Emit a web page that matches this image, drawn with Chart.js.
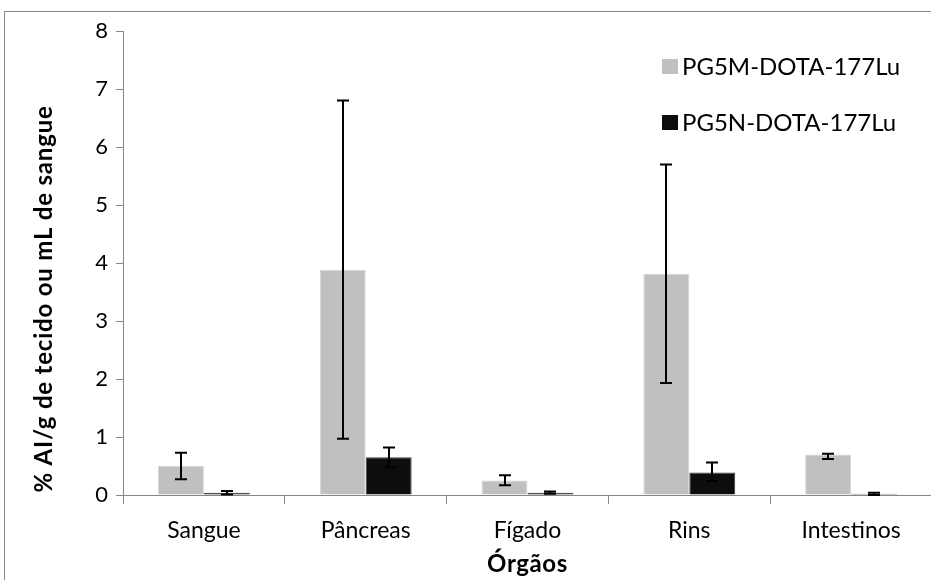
<!DOCTYPE html>
<html>
<head>
<meta charset="utf-8">
<script src="https://cdn.jsdelivr.net/npm/chart.js@4/dist/chart.umd.min.js"></script>
<style>
  html, body { margin: 0; padding: 0; background: #fff; overflow: hidden; }
  canvas { display: block; }
</style>
</head>
<body>
<canvas id="biodistribuicao" width="960" height="600"></canvas>
<script>
// Órgãos avaliados e captação (% AI/g) de cada composto, com barras de erro
const orgaos = ['Sangue', 'Pâncreas', 'Fígado', 'Rins', 'Intestinos'];
const pg5m = [0.50, 3.88, 0.25, 3.81, 0.70];
const pg5mErroInf = [0.23, 2.91, 0.08, 1.88, 0.08];
const pg5mErroSup = [0.23, 2.92, 0.09, 1.89, 0.01];
const pg5n = [0.04, 0.65, 0.04, 0.39, 0.02];
const pg5nErroInf = [0.03, 0.17, 0.02, 0.15, 0.02];
const pg5nErroSup = [0.03, 0.17, 0.02, 0.17, 0.02];
const eixoY = [0, 1, 2, 3, 4, 5, 6, 7, 8];

const fonte = 'Lato, "Open Sans", sans-serif';
const corEixo = '#868686';

// moldura externa do gráfico
const moldura = {
    id: 'moldura',
    beforeDraw(chart) {
        const ctx = chart.ctx;
        ctx.save();
        ctx.strokeStyle = corEixo;
        ctx.lineWidth = 1;
        ctx.strokeRect(4.5, 11.5, 1100, 1100);
        ctx.restore();
    }
};

// barras de erro desenhadas sobre cada barra
const barrasErro = {
    id: 'barrasErro',
    afterDatasetsDraw(chart) {
        const ctx = chart.ctx;
        const y = chart.scales.y;
        const erros = [[pg5mErroInf, pg5mErroSup], [pg5nErroInf, pg5nErroSup]];
        ctx.save();
        ctx.strokeStyle = '#000';
        ctx.lineWidth = 2;
        chart.data.datasets.forEach((ds, i) => {
            chart.getDatasetMeta(i).data.forEach((bar, j) => {
                const v = ds.data[j];
                const yi = y.getPixelForValue(v - erros[i][0][j]);
                const ys = y.getPixelForValue(v + erros[i][1][j]);
                const x = Math.round(bar.x);
                ctx.beginPath();
                ctx.moveTo(x, yi);
                ctx.lineTo(x, ys);
                ctx.moveTo(x - 6, ys);
                ctx.lineTo(x + 6, ys);
                ctx.moveTo(x - 6, yi);
                ctx.lineTo(x + 6, yi);
                ctx.stroke();
            });
        });
        ctx.restore();
    }
};

// legenda, títulos dos eixos
const textos = {
    id: 'textos',
    afterDraw(chart) {
        const ctx = chart.ctx;
        const area = chart.chartArea;
        ctx.save();
        ctx.fillStyle = '#000';
        ctx.textBaseline = 'middle';

        ctx.font = '24px ' + fonte;
        chart.data.datasets.forEach((ds, i) => {
            const cy = 66 + i * 56;
            ctx.fillStyle = ds.backgroundColor;
            ctx.fillRect(662, cy - 7, 16, 15);
            ctx.fillStyle = '#000';
            ctx.textAlign = 'left';
            ctx.fillText(ds.label, 682, cy + 1);
        });

        ctx.font = 'bold 24px ' + fonte;
        ctx.textAlign = 'center';
        ctx.letterSpacing = '0.6px';
        ctx.fillText('Órgãos', (area.left + area.right) / 2, 564);

        ctx.letterSpacing = '0.8px';
        ctx.translate(44, 299);
        ctx.rotate(-Math.PI / 2);
        ctx.fillText('% AI/g de tecido ou mL de sangue', 0, 0);
        ctx.restore();
    }
};

const ctx = document.getElementById('biodistribuicao').getContext('2d');
const chart = new Chart(ctx, {
    type: 'bar',
    data: {
        labels: orgaos,
        datasets: [
            {
                label: 'PG5M-DOTA-177Lu',
                data: pg5m,
                backgroundColor: '#c0c0c0',
                borderColor: '#d4d4d4',
                borderWidth: 1
            },
            {
                label: 'PG5N-DOTA-177Lu',
                data: pg5n,
                backgroundColor: '#0d0d0d',
                borderColor: '#3a3a3a',
                borderWidth: 1
            }
        ]
    },
    options: {
        responsive: false,
        animation: false,
        devicePixelRatio: 1,
        layout: { padding: { top: 31, right: 28, bottom: 0, left: 0 } },
        categoryPercentage: 0.568,
        barPercentage: 1,
        plugins: {
            legend: { display: false },
            tooltip: { enabled: false }
        },
        scales: {
            x: {
                afterFit(scale) { scale.height = 105; },
                grid: {
                    offset: true,
                    drawOnChartArea: false,
                    tickLength: 9,
                    color: corEixo
                },
                border: { color: corEixo, width: 1 },
                ticks: {
                    color: '#000',
                    padding: 13,
                    font: { family: fonte, size: 23 }
                }
            },
            y: {
                min: 0,
                max: 8,
                afterFit(scale) { scale.width = 123; },
                afterBuildTicks(scale) {
                    scale.ticks = eixoY.map(v => ({ value: v }));
                },
                grid: {
                    drawOnChartArea: false,
                    tickLength: 7,
                    color: corEixo
                },
                border: { color: corEixo, width: 1 },
                ticks: {
                    color: '#000',
                    padding: 8,
                    font: { family: fonte, size: 22 }
                }
            }
        }
    },
    plugins: [moldura, barrasErro, textos]
});
</script>
</body>
</html>
